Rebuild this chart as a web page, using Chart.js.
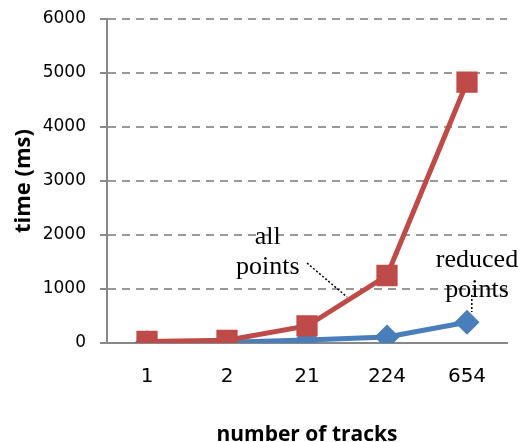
<!DOCTYPE html>
<html><head><meta charset="utf-8">
<script src="https://cdn.jsdelivr.net/npm/chart.js@4/dist/chart.umd.min.js"></script>
<style>html,body{margin:0;padding:0;background:#fff}#wrap{width:521px;height:442px}</style>
</head><body><div id="wrap"><canvas id="c" width="521" height="442"></canvas></div>
<script>
const categories = ["1", "2", "21", "224", "654"];
const allPoints = [30, 50, 315, 1250, 4830];
const reducedPoints = [5, 12, 55, 110, 385];
const yTicks = [0, 1000, 2000, 3000, 4000, 5000, 6000];

const annot = {
  id: 'annot',
  afterDatasetsDraw(chart) {
    const {ctx, scales: {x, y}} = chart;
    ctx.save();
    ctx.font = '26px "Liberation Serif"';
    ctx.fillStyle = '#000';
    ctx.textAlign = 'center';
    ctx.textBaseline = 'middle';
    // "all points"
    const ax = x.getPixelForValue(1.51);
    ctx.fillText('all', ax, y.getPixelForValue(1963));
    ctx.fillText('points', ax, y.getPixelForValue(1407));
    // "reduced points"
    const rx = x.getPixelForValue(4.125);
    ctx.fillText('reduced', rx, y.getPixelForValue(1537));
    ctx.fillText('points', rx, y.getPixelForValue(981));
    ctx.setLineDash([2, 2]);
    ctx.lineWidth = 1.5;
    ctx.strokeStyle = '#000';
    ctx.beginPath();
    ctx.moveTo(x.getPixelForValue(2.0), y.getPixelForValue(1481));
    ctx.lineTo(x.getPixelForValue(2.5), y.getPixelForValue(852));
    ctx.stroke();
    ctx.beginPath();
    ctx.moveTo(x.getPixelForValue(4.06), y.getPixelForValue(889));
    ctx.lineTo(x.getPixelForValue(4.06), y.getPixelForValue(574));
    ctx.stroke();
    ctx.restore();
  }
};

new Chart(document.getElementById('c'), {
  type: 'line',
  data: {
    labels: categories,
    datasets: [
      {label: 'reduced points', data: reducedPoints, borderColor: '#4a7ebb', backgroundColor: '#4a7ebb',
       borderWidth: 5, pointStyle: 'rectRot', pointRadius: 9, pointHoverRadius: 9, order: 2},
      {label: 'all points', data: allPoints, borderColor: '#be4b48', backgroundColor: '#be4b48',
       borderWidth: 5, pointStyle: 'rect', pointRadius: 11.5, pointHoverRadius: 11.5, order: 1}
    ]
  },
  options: {
    responsive: false, animation: false,
    layout: {autoPadding: false, padding: {top: 19, right: 14, left: 6, bottom: -6}},
    plugins: {legend: {display: false}, tooltip: {enabled: false}},
    scales: {
      x: {
        offset: true,
        afterFit: (s) => { s.height = 105; },
        grid: {display: false, drawTicks: false},
        border: {color: '#888', width: 2},
        ticks: {color: '#000', font: {family: 'DejaVu Sans', size: 20}, padding: 22},
        title: {display: true, text: 'number of tracks', color: '#000',
                font: {family: 'Open Sans', size: 21, weight: 'bold'}, padding: {top: 0, bottom: 0}}
      },
      y: {
        min: 0, max: 6000,
        afterFit: (s) => { s.width = 101; s.paddingTop = 0; s.paddingBottom = 0; },
        afterBuildTicks: (s) => { s.ticks = yTicks.map(v => ({value: v})); },
        grid: {color: '#999', lineWidth: 2, tickLength: 7, tickColor: '#888', tickBorderDash: [], tickWidth: 2},
        border: {color: '#888', width: 2, dash: [8, 6]},
        ticks: {color: '#000', font: {family: 'DejaVu Sans', size: 17}, padding: 14,
                callback: (v) => String(v)},
        title: {display: true, text: 'time (ms)', color: '#000',
                font: {family: 'Open Sans', size: 22, weight: 'bold'}, padding: {top: 5, bottom: 0}}
      }
    }
  },
  plugins: [annot]
});
</script></body></html>
